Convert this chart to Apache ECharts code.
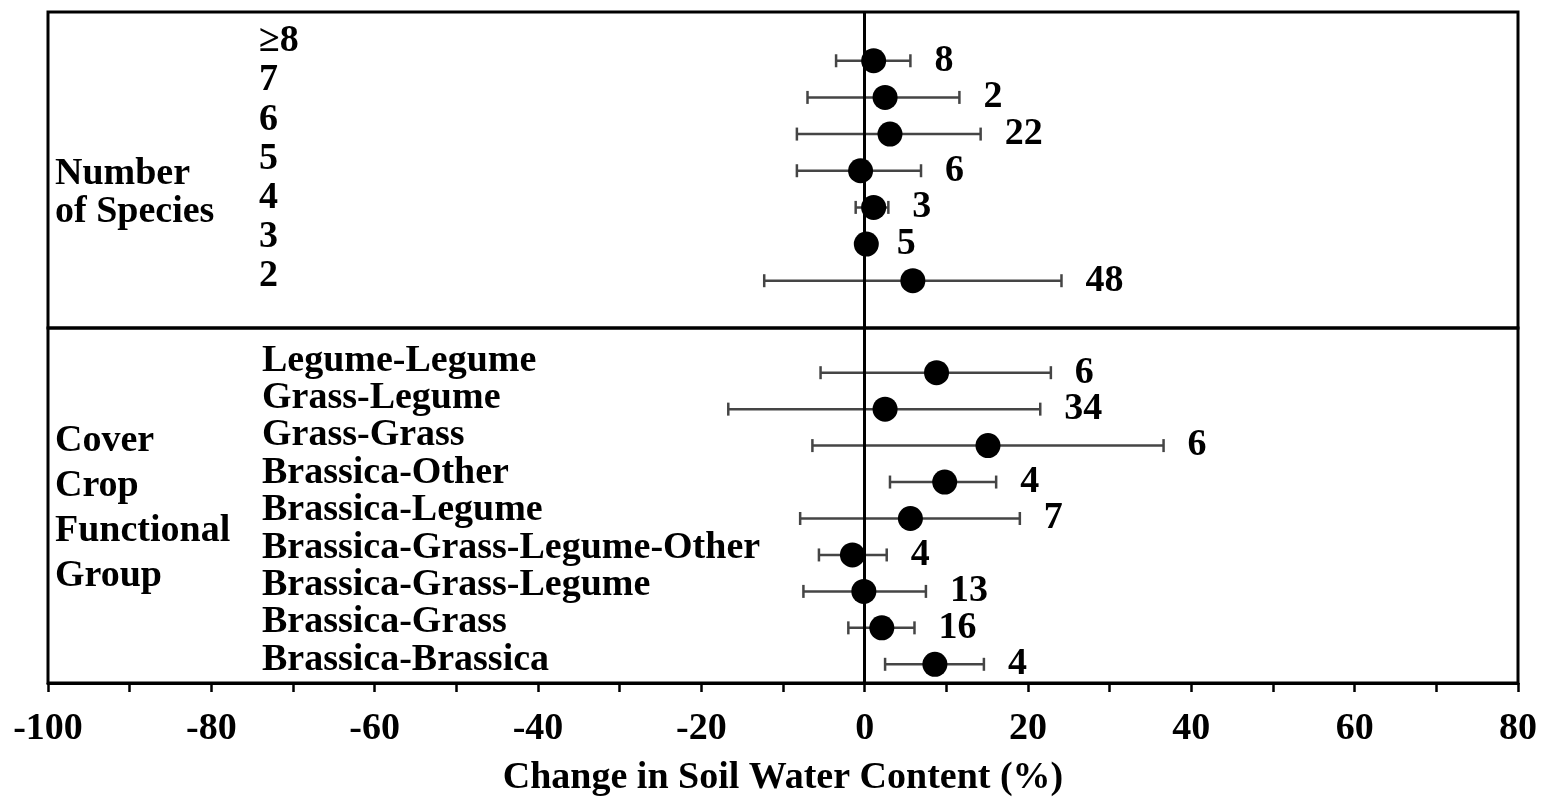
<!DOCTYPE html>
<html><head><meta charset="utf-8">
<script src="https://cdn.jsdelivr.net/npm/echarts@6/dist/echarts.min.js"></script>
<style>html,body{margin:0;padding:0;background:#fff}#c{width:1547px;height:802px}</style>
</head><body><div id="c"></div>
<script>
// ---- Data ----
const speciesCats = ['≥8', '7', '6', '5', '4', '3', '2'];
const speciesMean = [1.1, 2.5, 3.1, -0.5, 1.1, 0.2, 5.9];
const speciesLow  = [-3.5, -7.0, -8.3, -8.3, -1.1, -0.6, -12.3];
const speciesHigh = [5.6, 11.6, 14.2, 6.9, 2.9, 1.0, 24.1];
const speciesN    = [8, 2, 22, 6, 3, 5, 48];

const groupCats = ['Legume-Legume', 'Grass-Legume', 'Grass-Grass', 'Brassica-Other', 'Brassica-Legume',
  'Brassica-Grass-Legume-Other', 'Brassica-Grass-Legume', 'Brassica-Grass', 'Brassica-Brassica'];
const groupMean = [8.8, 2.5, 15.1, 9.8, 5.6, -1.5, -0.1, 2.1, 8.6];
const groupLow  = [-5.4, -16.7, -6.4, 3.1, -7.9, -5.6, -7.5, -2.0, 2.5];
const groupHigh = [22.8, 21.5, 36.6, 16.1, 19.0, 2.7, 7.5, 6.1, 14.6];
const groupN    = [6, 34, 6, 4, 7, 4, 13, 16, 4];

const xTickLabels = [-100, -80, -60, -40, -20, 0, 20, 40, 60, 80];
const xTitle = 'Change in Soil Water Content (%)';
const panelTitles = [['Number', 'of Species'], ['Cover', 'Crop', 'Functional', 'Group']];

// ---- Styles ----
const FONT = 'Liberation Serif';
const FS = 38;
const fontStr = 'bold ' + FS + 'px "' + FONT + '"';

const chart = echarts.init(document.getElementById('c'), null, {renderer: 'canvas'});

function errRender(params, api) {
  const y = api.value(2);
  const lo = api.coord([api.value(0), y]);
  const hi = api.coord([api.value(1), y]);
  const cap = 6.5;
  const ls = {stroke: '#454545', lineWidth: 2.5};
  return {
    type: 'group',
    children: [
      {type: 'line', shape: {x1: lo[0], y1: lo[1], x2: hi[0], y2: hi[1]}, style: ls},
      {type: 'line', shape: {x1: lo[0], y1: lo[1] - cap, x2: lo[0], y2: lo[1] + cap}, style: ls},
      {type: 'line', shape: {x1: hi[0], y1: hi[1] - cap, x2: hi[0], y2: hi[1] + cap}, style: ls},
      {type: 'text', x: hi[0] + 24, y: hi[1],
        style: {text: String(api.value(3)), font: fontStr, fill: '#000', textAlign: 'left', verticalAlign: 'middle'}}
    ]
  };
}

function makeErr(cats, lo, hi, n, gi) {
  return {
    type: 'custom', xAxisIndex: gi, yAxisIndex: gi * 2, z: 2, silent: true,
    renderItem: errRender, clip: false,
    encode: {x: [0, 1], y: 2},
    data: cats.map((c, i) => [lo[i], hi[i], i, n[i]])
  };
}
function makeDots(cats, mean, gi) {
  return {
    type: 'scatter', xAxisIndex: gi, yAxisIndex: gi * 2, z: 4, silent: true,
    symbol: 'circle', symbolSize: 25, itemStyle: {color: '#000', opacity: 1},
    data: cats.map((c, i) => [mean[i], i])
  };
}
function makeZero(gi) {
  return {
    type: 'scatter', xAxisIndex: gi, yAxisIndex: gi * 2, z: 3, silent: true, data: [],
    markLine: {silent: true, symbol: ['none', 'none'], animation: false,
      label: {show: false}, lineStyle: {color: '#000', width: 3, type: 'solid'},
      data: [{xAxis: 0}]}
  };
}
// Row (category) labels, placed on their own row axis inside the panel
function makeRowLabels(cats, gi, margin) {
  return {
    type: 'custom', xAxisIndex: gi, yAxisIndex: gi * 2 + 1, z: 5, silent: true, clip: false,
    encode: {y: 0},
    data: cats.map((c, i) => [i]),
    renderItem: (params, api) => {
      const p = api.coord([0, api.value(0)]);
      return {type: 'text', x: params.coordSys.x + margin, y: p[1],
        style: {text: cats[params.dataIndex], font: fontStr, fill: '#000', textAlign: 'left', verticalAlign: 'middle'}};
    }
  };
}

const dataY = (min, max, gi) => ({gridIndex: gi, type: 'value', position: 'left', inverse: true, min: min, max: max, show: false});

const graphics = [];
const titleY = [[174, 212], [441, 486, 531, 576]];
panelTitles.forEach((lines, p) => lines.forEach((t, k) => graphics.push({
  type: 'text', x: 55, y: titleY[p][k], z: 10,
  style: {text: t, font: fontStr, fill: '#000', textAlign: 'left', verticalAlign: 'middle'}
})));

const gridBase = {left: 48, right: 29, show: true, borderColor: '#000', borderWidth: 3,
  backgroundColor: 'transparent', containLabel: false, outerBoundsMode: 'none'};

const option = {
  animation: false,
  backgroundColor: '#fff',
  grid: [
    Object.assign({}, gridBase, {top: 12, height: 316}),
    Object.assign({}, gridBase, {top: 328, height: 355})
  ],
  xAxis: [
    {gridIndex: 0, type: 'value', position: 'bottom', min: -100, max: 80, interval: 10, show: false},
    {gridIndex: 1, type: 'value', position: 'bottom', min: -100, max: 80, interval: 10,
      axisLine: {show: true, onZero: false, lineStyle: {color: '#000', width: 3}},
      axisTick: {show: true, length: 9, lineStyle: {color: '#000', width: 2.5}},
      splitLine: {show: false},
      axisLabel: {margin: 27, color: '#000', fontFamily: FONT, fontWeight: 'bold', fontSize: FS,
        formatter: v => xTickLabels.indexOf(v) >= 0 ? String(v) : ''},
      name: xTitle, nameLocation: 'middle', nameGap: 76,
      nameTextStyle: {color: '#000', fontFamily: FONT, fontWeight: 'bold', fontSize: FS}
    }
  ],
  yAxis: [
    dataY(-1.33, 7.29, 0),
    dataY(-0.75, 7.31, 0),
    dataY(-1.226, 8.513, 1),
    dataY(-0.88, 8.62, 1)
  ],
  graphic: graphics,
  series: [
    makeErr(speciesCats, speciesLow, speciesHigh, speciesN, 0),
    makeZero(0),
    makeDots(speciesCats, speciesMean, 0),
    makeRowLabels(speciesCats, 0, 211),
    makeErr(groupCats, groupLow, groupHigh, groupN, 1),
    makeZero(1),
    makeDots(groupCats, groupMean, 1),
    makeRowLabels(groupCats, 1, 214)
  ]
};
chart.setOption(option);
</script>
</body></html>
